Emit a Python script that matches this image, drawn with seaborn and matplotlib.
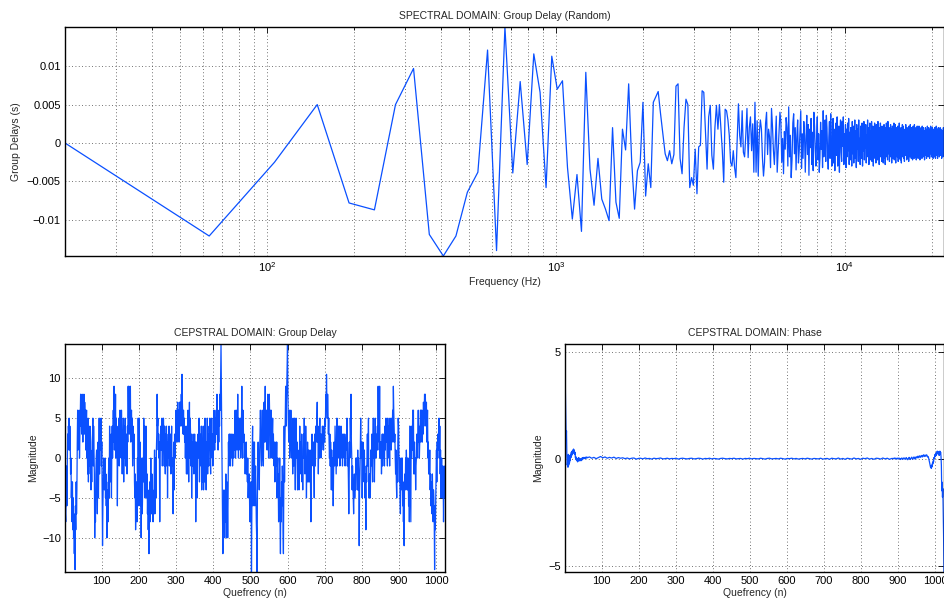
import numpy as np
import pandas as pd
import seaborn as sns
import matplotlib
matplotlib.use("Agg")
import matplotlib.pyplot as plt
from matplotlib import ticker

########## data ##########

# spectral group delay, one value per bin, in units of 1e-4 s
# bins run linearly from 20 Hz to 22050 Hz (512 bins)
gd_low = [0, -121, -25, 50, -78, -87, 50, 97, -119, -147,
          -121, -64, -38, 121, -140, 151, -39, 80, -28, 116,
          66, -58, 113, 70, 81, -32, -99, -41, -115, 92,
          -34, -81, -20, -73, -86, -101, 20, -77, -98, 18,
          -9, 77, -23, -86, -36, -25, 53, -69, -27, -58,
          53, 60, 67, 38, 12, -14, -23, -10, -27, -15,
          74, 77, -20, -40, 20, 57, 50, -58, -45, -55,
          -8, -66, -5, -3, 68, 66, 16, -34, 34, 49,
          -16, -34, 20, 49, 18, 50,
          20, -10, -51, 44, 42, 30, 10, -25, -30, -10,
          -32, -45, 5, 51, 10, -5, 42, -12, -18, 10,
          45, -19, 20, 34, -10, 25, -38, 53, -38, 29]
gd_mid = [-43, 12, 30, 18, -20, -43, -25, 25, 40, -15, 18, 8, -32, 45, 22, -10, -28, 5, 35, -38,
          -12, 14, 40, 28, -25, 6, -40, 15, -8, 33, 20, -30, 47, -18, 10, -45, -22, 26, 38, -14,
          20, -35, 8, 30, -26, -10, 16, 42, -33, 12, -20, 28, 10, -38, 5, 36, -15, 24, -42, 18,
          -6, 32, -28, 14, -36, 40, 22, -10, -30, 6, 34, -22, 12, -38, -20, 27, -8, 16, -32, 42,
          -18, 4, 30, -24, 36, 20, -12, -34, 8, 28, -20, 38, 14, -30, -6, 32, -26, 18, -36, 10,
          26, -16, 34, -30, 6, 22, -38, 16, 30, -12, -24, 28, -4, 34, -28, 12, -20, 24, -32, 18]
gd_high = [-18, 26, -10, 32, -28, 14, -22, 20, 4, -30, 28, -14, 22, -26, 10, 30, -20, 16, -32, 24,
           -8, 18, -24, 30, -16, 6, -28, 22, 12, -20, 26, -30, 14, -10, 28, -22, 18, -6, 24, -26,
           10, -18, 30, -14, 20, -28, 8, 26, -22, 16, -12, 28, -24, 6, 22, -30, 14, -16, 26, -20,
           12, -26, 24, -8, 18, -22, 28, -16, 10, -28, 20, -4, 26, -18, 14, -24, 22, -12, 18, -26,
           8, 24, -20, 14, -28, 20, -10, 26, -18, 12, -22, 28, -14, 6, 20, -24, 16, -18, 24, -10,
           18, -26, 12, 22, -20, 8, -16, 26, -22, 14, -8, 24, -26, 18, -12, 20, -18, 10, 22, -24,
           14, -20, 26, -10, 16, -22, 8, 20, -26, 12, -14, 24, -18, 6, 22, -20, 16, -24, 10, 18,
           -16, 24, -12, 14, -22, 20, -8, 18, -20, 12, -24, 22, -6, 16, -18, 24, -14, 8, -20, 20,
           -10, 18, -22, 12, 22, -16, 6, -20, 24, -12, 16, -18, 10, 20, -22, 14, -8, 22, -16, 12,
           -20, 18, -10, 22, -14, 8, -22, 16, 12, -18, 20, -6, 14, -20, 22, -12, 10, -16, 20, -18,
           8, 16, -22, 14, -10, 20, -16, 6, 18, -20, 12, -14, 22, -8, 16, -18, 10, 20, -12, 14,
           -20, 6, 18, -14, 22, -10, 12, -18, 16, -6, 20, -16, 10, -20, 18, -12, 14, 8, -18, 20,
           -14, 10, -20, 16, -8, 22, -16, 12, -10, 18, -20, 14, -6, 20, -14, 8, 16, -18, 12, -10,
           20, -16, 6, 18, -12, 14, -20, 10, 16, -14, 8, -18, 12, 20, -10, 6]

# cepstral group delay, n = 1..1024
cep_gd = [-3, -7, -8, -4, -1, -6, -2, 3, 1, 4,
          3, 5, 1, 4, 2, -2, 0, -5, -3, -8,
          -3, -9, -5, -10, -7, -12, -8, -14, -6, -9,
          -3, -7, -4, 2, 6, 1, 5, 2, 6, 0,
          3, 5, 8, 4, 7, 3, 8, 5, 2, 7,
          4, 8, 3, 7, 5, 6, 1, 4, 6, 0,
          2, -2, 5, -3, 1, 2, -1, 4, -2, 1,
          -4, 0, -3, 2, 3, 5, -1, 4, 1, -2,
          -10, -5, -8, -2, 0, 1, -4, -7, -3, 2,
          -5, 0, 5, -2, 3, 4, 1, 5, -1, 2,
          -4, -11, -6, -3, 0, -2, -4, -1, 0, -5,
          -2, -6, -3, -10, -5, -4, -8, -2, 0, -5,
          4, -1, 2, -3, 3, -5, 1, 4, 0, 3,
          6, 2, 9, 1, 6, 3, 8, 0, 5, 1,
          3, -6, 2, 4, 0, 5, -1, 3, 6, 1,
          5, 0, 6, 2, -2, 3, 1, 5, -3, 2,
          4, 0, 5, -1, 2, 3, 1, -2, 4, 2,
          9, 5, 9, 3, 7, 4, 9, 2, 5, 6,
          3, 5, -1, 4, 2, 0, 3, -3, -5, -2,
          -9, -5, -7, -3, -8, 0, -4, 5, -2, -6,
          5, -3, 2, -6, -1, -10, -3, 0, -7, -4,
          0, -3, 5, 1, 4, -5, 2, -2, 4, -1,
          -5, -2, -7, -4, -9, -5, -12, -6, -3, -8,
          -4, 0, -5, -7, -2, -6, -4, -8, -5, -7,
          -3, 1, -7, -2, 0, -5, 1, 3, 8, 4,
          5, 1, 3, 0, 2, -8, 0, 3, 4, 1,
          3, 5, -1, 4, 2, 5, 3, -1, 4, 1,
          -2, 3, 0, 4, -1, 2, -5, 1, 3, 0,
          4, -1, 2, 0, 3, -2, 1, 4, -1, 0,
          -1, -7, -3, 2, -4, 3, 0, 1, 3, 6,
          3, 6, 2, 7, 3, 5, 6, 2, 7, 5,
          5, 7, 4, 8, 6, 10.5, 7, 5, 3, 6,
          3, 5, 2, 4, 0, 3, 1, -2, 4, 2,
          -2, 6, 1, -3, 3, 7, 0, 5, 3, -1,
          3, -5, 0, 2, -1, 3, 0, -2, 1, 3,
          -1, 2, -8, 0, 2, -3, -5, 1, 3, 0,
          2, 5, -3, 1, 3, 0, -1, 4, -4, 2,
          -3, 1, 4, -4, 2, 0, -3, 5, 0, 1,
          -4, 2, 0, 5, -2, 3, 0, -1, 4, 1,
          5, 0, -2, 4, 1, 5, 0, 3, -1, 2,
          1, 6, 3, 1, 5, 2, 4, 6, 3, 8,
          3, 6, 1, 5, 2, 6, 4, 8, 6, 10,
          14.3, 8, 3, -2, -8, -12, -6, -9, -4, -8,
          -10, -5, -8, -2, -7, -10, -3, -6, -10, -5,
          2, -1, 3, 0, 3, -1, 1, 3, 0, 2,
          3, -1, 1, 2, 0, 3, 2, 1, 6, 0,
          3, 2, 6, 1, 4, 8, 3, 0, 5, 2,
          4, 1, 5, 0, 2, 4, 9, 3, 0, 6,
          4, 2, 3, 0, 2, -2, 1, 0, 2, -2,
          -1, -3, 0, -5, -3, -4, -2, -6, -8, -5,
          -5, -3, -14.3, -6, 1, 4, -6, 0, 2, -2,
          2, -6, -3, -1, -4, -8, -10, -14.3, -5, 0,
          2, -1, 0, -4, 1, 3, 6, 3, 0, -1,
          2, 6, 3, 0, -1, 4, 7, 2, 5, 9,
          4, 2, 6, 4, 1, 3, 8, 5, 0, 2,
          8, 5, 6, 0, 2, 6, 1, 0, 3, 5,
          0, 3, 0, -1, 2, -3, 1, 0, 2, -1,
          2, -5, -1, 0, -3, -8, -2, -5, 0, -8,
          -12, -5, -8, -3, -6, -1, -4, -9, -12, -3,
          4, -3, 2, 5, 9, 4, 7, 9, 12, 14.3,
          8, 5, 3, 2, 6, 0, 3, 1, 6, 2,
          0, 3, 1, -2, 5, 0, -1, 3, 5, -1,
          -4, 0, 5, 2, 0, 2, -4, 1, -2, 0,
          -4, 0, 4, -2, 2, 0, -1, 3, -3, 0,
          -4, 1, 3, 0, 5, 2, -2, 1, 4, 2,
          -5, 0, -3, 2, -1, -3, 1, -2, -3, 0,
          1, -4, -8, -2, 1, 3, 2, 0, -1, 2,
          -2, -5, 3, 0, -1, 4, 2, 3, 5, 7,
          2, 4, -2, 3, 0, 3, 5, 2, 3, 0,
          3, 1, 2, 4, 2, 3, 1, 4, 3, 2,
          5, 4, 8, 6, 10.5, 7, 5, 8, 6, 3,
          5, 2, 0, 3, -1, 2, 0, -4, 1, -2,
          -4, 0, -6, -2, 2, 0, -1, 4, 2, 0,
          -2, 2, 5, -1, 3, 1, 4, 0, 2, 4,
          -1, 3, 2, 4, 0, 2, 3, -1, 1, 3,
          1, 0, 3, 1, -1, 0, 2, 3, 1, 5,
          -1, 2, 0, -3, -7, -2, 2, 0, 5, 3,
          8, 2, 0, -4, -1, -3, -5, -7, -4, -2,
          -5, -3, -4, 0, -2, 0, -1, -4, 1, -4,
          0, -2, -11, -4, -2, 1, 5, 0, 2, 0,
          -5, -1, 2, -2, 0, -3, 1, -5, -2, -4,
          -9, -1, -3, 0, 3, -1, 2, 5, -5, -3,
          -2, -4, -5, 1, -1, 0, 3, -1, -3, 2,
          5, 0, 3, -3, 1, 5, 2, 0, 3, 1,
          2, 4, 1, 9, 3, 5, 2, 9, 0, 2,
          0, 2, -2, 1, 3, -1, 3, 0, 2, 3,
          -1, 4, 1, 3, 5, 2, 4, 1, -1, 5,
          2, 4, 0, 3, -1, 5, 2, 3, 1, 2,
          5, 3, 6, 2, 9, 6, 4, 2, 3, 0,
          -2, 1, -3, -5, -1, -3, 2, 5, 4, 0,
          -3, 0, -5, -7, -2, 0, -1, -4, 0, -6,
          -3, -8, -5, -11, -3, -2, -4, 0, -2, 1,
          -1, -4, 0, -4, -2, -6, 0, -8, 4, 0,
          -3, -8, 4, 0, 2, 1, 6, 3, 6, -2,
          1, 2, -2, 0, -4, -1, 0, 3, 1, 0,
          3, 6, 2, 4, 0, 2, 4, 6, 2, 6,
          3, 6, 2, 5, 3, 7, 4, 6, 8, 5,
          8, 6, 4, 7, 2, 4, 6, 0, 2, -2,
          0, -2, 1, -4, -2, -6, -3, -6, -7, -2,
          -5, -8, -4, -5, -8, -14, -6, -9, -5, -2,
          1, -3, 2, 0, 3, 1, 4, 5, 0, 4,
          -2, 1, -5, -2, 0, -3, -5, -1, -2, -8,
          -4, -1, -3, -5]

# cepstral phase: every sample for n = 1..60, every 6th sample in the flat middle,
# every sample again from n = 885 to the end
ph_head = [5.36, 3.2, 1.95, 0.9, 1.3, 0.1, -0.3, -0.15, -0.4, 0.2,
           -0.3, 0.15, -0.2, 0.1, -0.1, 0.2, 0.05, 0.3, 0.15, 0.35,
           0.2, 0.4, 0.3, 0.45, 0.25, 0.4, 0.2, 0.3, 0.05, 0.1,
           -0.05, 0.05, -0.1, 0.0, -0.15, -0.05, -0.1, 0.05, -0.05, -0.1,
           0.0, -0.08, -0.02, -0.1, -0.04, 0.02, -0.06, 0.03, -0.02, 0.05,
           0.0, 0.06, 0.02, 0.05, 0.0, 0.04, 0.07, 0.02, 0.05, 0.08]
ph_mid = [0.04, 0.08, 0.02, 0.06, 0.0, 0.05, 0.1, 0.04, 0.08, 0.02, 0.06, 0.03, 0.07, 0.01, 0.05,
          0.02, 0.04, 0.0, 0.03, -0.01, 0.02, 0.03, -0.02, 0.01, 0.02,
          -0.01, 0.03, 0.0, 0.01, -0.02, 0.02, 0.0, 0.01, 0.03, -0.01,
          0.0, 0.02, -0.01, 0.01, 0.0, 0.02, -0.02, 0.01, 0.02, 0.0,
          -0.01, 0.01, 0.02, -0.01, 0.0, 0.02, 0.01, -0.02, 0.01, 0.0,
          0.02, -0.01, 0.01, 0.0, -0.02, 0.01, 0.02, 0.0, -0.01, 0.01,
          0.0, 0.02, -0.01, 0.0, 0.01, -0.02, 0.01, 0.0, 0.02, -0.01,
          0.01, 0.0, -0.01, 0.02, 0.0, -0.02, 0.01, 0.02, -0.01, 0.0,
          0.01, -0.01, 0.02, 0.0, -0.02, 0.01, 0.0, 0.02, -0.01, 0.01,
          -0.02, 0.0, 0.01, -0.01, 0.02, 0.0, -0.02, 0.01, 0.0, -0.01,
          0.02, -0.02, 0.0, 0.01, -0.03, 0.02, 0.0, -0.01, 0.03, -0.02,
          0.01, -0.03, 0.02, 0.0, -0.02, 0.03, -0.01, 0.01, -0.03, 0.02,
          0.0, 0.03, -0.02, 0.01, -0.03, 0.02, 0.01, -0.02, 0.03, -0.01,
          0.02, -0.03, 0.01]
ph_tail = [0.0, 0.01, 0.02, 0.0, -0.01, 0.01, 0.03, 0.02, 0.0, 0.01,
           0.02, -0.01, -0.02, 0.0, 0.02, 0.03, 0.01, -0.01, 0.0, 0.02,
           0.01, -0.02, -0.04, -0.02, 0.01, 0.03, 0.02, 0.0, -0.03, -0.01,
           0.02, 0.04, 0.02, -0.01, -0.03, -0.01, 0.02, 0.05, 0.03, 0.0,
           -0.02, -0.05, -0.03, 0.01, 0.04, 0.06, 0.03, -0.01, -0.04, -0.02,
           0.02, 0.05, 0.07, 0.04, 0.0, -0.03, 0.01, 0.05, 0.08, 0.06,
           0.02, -0.02, 0.01, 0.06, 0.09, 0.07, 0.03, 0.05, 0.1, 0.12,
           0.08, 0.04, 0.07, 0.11, 0.14, 0.1, 0.06, 0.09, 0.13, 0.15,
           0.12, 0.08, 0.11, 0.16, 0.18, 0.14, 0.1, 0.13, 0.17, 0.15,
           0.11, 0.14, 0.18, 0.16, 0.12, 0.08, 0.1, 0.06, 0.0, -0.08,
           -0.15, -0.25, -0.3, -0.42, -0.35, -0.45, -0.3, -0.38, -0.2, -0.25,
           -0.1, -0.15, 0.05, 0.0, 0.12, 0.2, 0.1, 0.25, 0.15, 0.3,
           0.22, 0.35, 0.28, 0.33, 0.2, 0.3, 0.15, 0.25, 0.35, 0.2,
           0.3, 0.1, -0.3, -1.5, -1.1, -1.8, -1.4, -2.4, -3.6, -5.3]

########## frames ##########

gd = np.array(gd_low + gd_mid + gd_high) * 1e-4
df_gd = pd.DataFrame({"freq": np.linspace(20, 22050, len(gd)), "gd": gd})

df_cgd = pd.DataFrame({"n": np.arange(1, len(cep_gd) + 1), "val": cep_gd})

n_head = np.arange(1, len(ph_head) + 1)
n_mid = 61 + 6 * np.arange(len(ph_mid))
n_tail = np.arange(885, 885 + len(ph_tail))
df_ph = pd.DataFrame({"n": np.concatenate([n_head, n_mid, n_tail]),
                      "val": ph_head + ph_mid + ph_tail})

########## style ##########

sns.set_style("white")
plt.rcParams["font.family"] = ["Liberation Sans", "DejaVu Sans"]
plt.rcParams["axes.unicode_minus"] = True

LINE = "#0a50ff"
FS_TICK = 8
FS_LAB = 7.5


def fmt(v, pos):
    return "{:g}".format(round(v, 6)).replace("-", "\u2212")


def matlab_axes(ax):
    for s in ax.spines.values():
        s.set_visible(True)
        s.set_color("black")
        s.set_linewidth(1.0)
    ax.tick_params(which="both", direction="in", top=True, right=True,
                   length=4, width=0.6, labelsize=FS_TICK, pad=3, colors="black")
    ax.tick_params(which="minor", length=2.5)
    ax.grid(True, which="major", linestyle=(0, (1, 3)), color="#444444", linewidth=0.6)


fig = plt.figure(figsize=(9.45, 6.05), dpi=100)

########## top: spectral group delay ##########
ax1 = fig.add_axes([0.0688, 0.5769, 0.930, 0.3785])
sns.lineplot(data=df_gd, x="freq", y="gd", ax=ax1, color=LINE, lw=0.9, estimator=None)
ax1.set_xscale("log")
ax1.set_xlim(df_gd["freq"].min(), df_gd["freq"].max())
ax1.set_ylim(gd.min(), gd.max())
ax1.set_yticks([-0.01, -0.005, 0, 0.005, 0.01])
ax1.yaxis.set_major_formatter(ticker.FuncFormatter(fmt))
ax1.xaxis.set_major_locator(ticker.LogLocator(base=10, numticks=10))
ax1.xaxis.set_minor_locator(ticker.LogLocator(base=10, subs=np.arange(2, 10), numticks=50))
ax1.xaxis.set_minor_formatter(ticker.NullFormatter())
matlab_axes(ax1)
ax1.grid(True, which="minor", axis="x", linestyle=(0, (1, 3)), color="#444444", linewidth=0.6)
ax1.set_title("SPECTRAL DOMAIN: Group Delay (Random)", fontsize=FS_LAB, pad=6)
ax1.set_xlabel("Frequency (Hz)", fontsize=FS_LAB, labelpad=2)
ax1.set_ylabel("Group Delays (s)", fontsize=FS_LAB, labelpad=4)

########## bottom left: cepstral group delay ##########
ax2 = fig.add_axes([0.0688, 0.0545, 0.4021, 0.3769])
sns.lineplot(data=df_cgd, x="n", y="val", ax=ax2, color=LINE, lw=0.9, estimator=None)
ax2.set_xlim(1, 1024)
ax2.set_ylim(df_cgd["val"].min(), df_cgd["val"].max())
ax2.set_xticks(np.arange(100, 1001, 100))
ax2.set_yticks([-10, -5, 0, 5, 10])
ax2.yaxis.set_major_formatter(ticker.FuncFormatter(fmt))
matlab_axes(ax2)
ax2.set_title("CEPSTRAL DOMAIN: Group Delay", fontsize=FS_LAB, pad=6)
ax2.set_xlabel("Quefrency (n)", fontsize=FS_LAB, labelpad=1)
ax2.set_ylabel("Magnitude", fontsize=FS_LAB, labelpad=3)

########## bottom right: cepstral phase ##########
ax3 = fig.add_axes([0.5979, 0.0545, 0.401, 0.3769])
sns.lineplot(data=df_ph, x="n", y="val", ax=ax3, color=LINE, lw=0.9, estimator=None)
ax3.set_xlim(1, 1024)
ax3.set_ylim(df_ph["val"].min(), df_ph["val"].max())
ax3.set_xticks(np.arange(100, 1001, 100))
ax3.set_yticks([-5, 0, 5])
ax3.yaxis.set_major_formatter(ticker.FuncFormatter(fmt))
matlab_axes(ax3)
ax3.set_title("CEPSTRAL DOMAIN: Phase", fontsize=FS_LAB, pad=6)
ax3.set_xlabel("Quefrency (n)", fontsize=FS_LAB, labelpad=1)
ax3.set_ylabel("Magnitude", fontsize=FS_LAB, labelpad=4)

fig.savefig("out.png", dpi=100)
